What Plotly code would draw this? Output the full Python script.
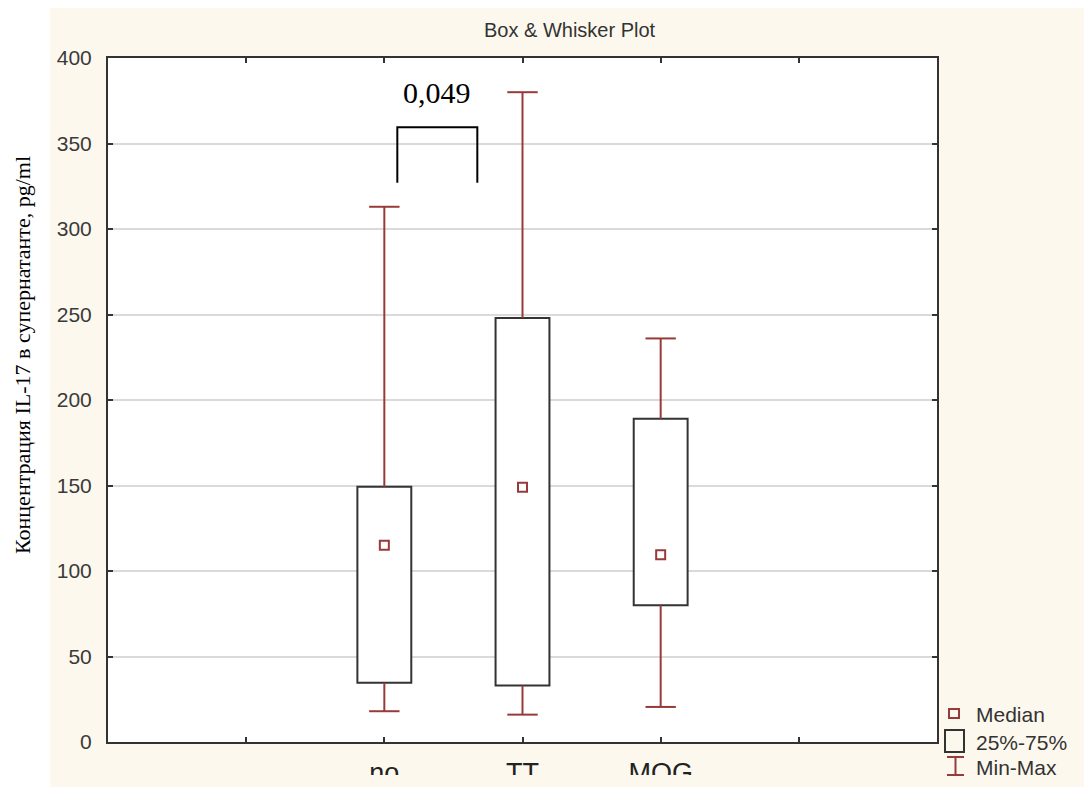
import plotly.graph_objects as go

# ---------------- data ----------------
slot_labels = ["", "no", "TT", "MOG", ""]
categories = ["no", "TT", "MOG"]
mins = [18, 16, 20.5]
q1 = [34.7, 33, 80]
medians = [115, 149, 109.5]
q3 = [149.3, 248, 189]
maxs = [313, 380, 236]
y_ticks = [0, 50, 100, 150, 200, 250, 300, 350, 400]
p_label = "0,049"
bracket_x = [2.094, 2.673]
bracket_y = [327, 359.5]
p_label_pos = [2.379, 380]
title_text = "Box & Whisker Plot"
y_title = "Концентрация IL-17 в супернатанте, pg/ml"
legend_labels = ["Median", "25%-75%", "Min-Max"]

# ---------------- layout geometry (pixels) ----------------
FW, FH = 1084, 787
L, R, T, B = 108, 937, 58, 742
W, H = R - L, B - T


def px(x):
    return (x - L) / W


def py(y):
    return (B - y) / H


WHISK = "#983a3a"
DARK = "#333333"
BEIGE = "#FDF8EE"

x_pos = [slot_labels.index(c) + 1 for c in categories]
box_w = 0.39
cap_half = 0.11

fig = go.Figure()

# boxes (25%-75%)
fig.add_trace(go.Bar(
    x=x_pos, y=[b - a for a, b in zip(q1, q3)], base=q1, width=box_w,
    marker=dict(color="white", line=dict(color=DARK, width=2)),
    hoverinfo="skip"))

# whiskers
wx, wy = [], []
for x, lo, a, b, hi in zip(x_pos, mins, q1, q3, maxs):
    wx += [x, x, None, x, x, None]
    wy += [b, hi, None, lo, a, None]
    wx += [x - cap_half, x + cap_half, None, x - cap_half, x + cap_half, None]
    wy += [hi, hi, None, lo, lo, None]
fig.add_trace(go.Scatter(x=wx, y=wy, mode="lines",
                         line=dict(color=WHISK, width=2), hoverinfo="skip"))

# medians
fig.add_trace(go.Scatter(x=x_pos, y=medians, mode="markers",
                         marker=dict(symbol="square-open", size=9, color=WHISK,
                                     line=dict(width=2, color=WHISK)),
                         hoverinfo="skip"))

# significance bracket
fig.add_trace(go.Scatter(
    x=[bracket_x[0], bracket_x[0], bracket_x[1], bracket_x[1]],
    y=[bracket_y[0], bracket_y[1], bracket_y[1], bracket_y[0]],
    mode="lines", line=dict(color="black", width=2), hoverinfo="skip"))

annotations = [
    dict(x=p_label_pos[0], y=p_label_pos[1], xref="x", yref="y", text=p_label,
         showarrow=False, font=dict(family="Liberation Serif", size=30, color="black")),
    dict(x=px(570), y=py(30), xref="paper", yref="paper", text=title_text,
         xanchor="center", yanchor="middle",
         showarrow=False, font=dict(family="Liberation Sans", size=20, color=DARK)),
    dict(x=px(22), y=py(355), xref="paper", yref="paper", text=y_title,
         xanchor="center", yanchor="middle",
         textangle=-90, showarrow=False,
         font=dict(family="Liberation Serif", size=22, color="black")),
]
for lab, yc in zip(legend_labels, [714, 742, 767]):
    annotations.append(dict(x=px(974), y=py(yc), xref="paper", yref="paper",
                            text=lab, xanchor="left", yanchor="middle",
                            showarrow=False,
                            font=dict(family="Liberation Sans", size=21, color=DARK)))

shapes = [
    # white margins outside the beige panel
    dict(type="rect", xref="paper", yref="paper", layer="below",
         x0=px(0), x1=px(50), y0=py(FH), y1=py(0), fillcolor="white", line_width=0),
    dict(type="rect", xref="paper", yref="paper", layer="below",
         x0=px(0), x1=px(FW), y0=py(8), y1=py(0), fillcolor="white", line_width=0),
    # legend symbols
    dict(type="rect", xref="paper", yref="paper", x0=px(949), x1=px(959),
         y0=py(718), y1=py(709), line=dict(color=WHISK, width=2)),
    dict(type="rect", xref="paper", yref="paper", x0=px(945), x1=px(964),
         y0=py(752), y1=py(730), line=dict(color=DARK, width=2)),
    dict(type="line", xref="paper", yref="paper", x0=px(955.5), x1=px(955.5),
         y0=py(757), y1=py(775), line=dict(color=WHISK, width=2)),
    dict(type="line", xref="paper", yref="paper", x0=px(947), x1=px(964),
         y0=py(757), y1=py(757), line=dict(color=WHISK, width=2)),
    dict(type="line", xref="paper", yref="paper", x0=px(947), x1=px(964),
         y0=py(775), y1=py(775), line=dict(color=WHISK, width=2)),
    # crop of the category labels at the bottom edge
    dict(type="rect", xref="paper", yref="paper", layer="above",
         x0=px(300), x1=px(760), y0=py(FH + 5), y1=py(775),
         fillcolor=BEIGE, line_width=0),
]

fig.update_layout(
    width=FW, height=FH,
    margin=dict(l=L, r=FW - R, t=T, b=FH - B, autoexpand=False),
    paper_bgcolor=BEIGE, plot_bgcolor="white",
    showlegend=False, hovermode=False,
    annotations=annotations, shapes=shapes,
    xaxis=dict(range=[0, len(slot_labels) + 1], tickmode="array",
               tickvals=list(range(1, len(slot_labels) + 1)), ticktext=slot_labels,
               showgrid=False, zeroline=False,
               showline=True, linecolor=DARK, linewidth=2, mirror="ticks",
               ticks="inside", ticklen=5, tickwidth=2, tickcolor=DARK,
               tickfont=dict(family="Liberation Sans", size=27, color="#222222"),
               ticklabelstandoff=6),
    yaxis=dict(range=[0, 400], tickmode="array", tickvals=y_ticks,
               showgrid=True, gridcolor="#dadada", gridwidth=1.5, zeroline=False,
               showline=True, linecolor=DARK, linewidth=2, mirror="ticks",
               ticks="inside", ticklen=5, tickwidth=2, tickcolor=DARK,
               tickfont=dict(family="Liberation Sans", size=21, color="#3a3a3a"),
               ticklabelstandoff=10),
)

fig.write_html("out.html")
